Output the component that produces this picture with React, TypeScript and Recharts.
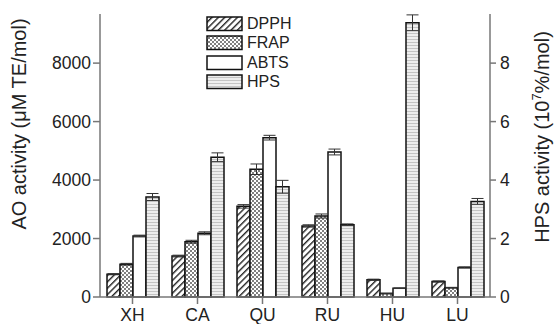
import {
  Bar,
  BarChart,
  ErrorBar,
  Legend,
  XAxis,
  YAxis,
} from "recharts";

const CATEGORIES = ["XH", "CA", "QU", "RU", "HU", "LU"];

// AO activity, µM TE/mol (left axis)
const DPPH = [780, 1400, 3100, 2430, 590, 530];
const DPPH_ERR = [20, 30, 60, 40, 20, 20];
const FRAP = [1120, 1890, 4370, 2770, 120, 320];
const FRAP_ERR = [30, 50, 180, 70, 10, 10];
const ABTS = [2085, 2180, 5450, 4960, 300, 1010];
const ABTS_ERR = [30, 50, 80, 100, 10, 20];
// HPS activity, 10^7 %/mol (right axis)
const HPS = [3.42, 4.78, 3.77, 2.47, 9.38, 3.27];
const HPS_ERR = [0.12, 0.15, 0.22, 0.03, 0.27, 0.1];

const LEFT_TICKS = [0, 2000, 4000, 6000, 8000];
const RIGHT_TICKS = [0, 2, 4, 6, 8];

const SERIES = [
  { key: "DPPH", fill: "url(#pDpph)" },
  { key: "FRAP", fill: "url(#pFrap)" },
  { key: "ABTS", fill: "#ffffff" },
  { key: "HPS", fill: "url(#pHps)" },
];

const data = CATEGORIES.map((name, i) => ({
  name,
  DPPH: DPPH[i],
  dpphErr: DPPH_ERR[i],
  FRAP: FRAP[i],
  frapErr: FRAP_ERR[i],
  ABTS: ABTS[i],
  abtsErr: ABTS_ERR[i],
  HPS: HPS[i],
  hpsErr: HPS_ERR[i],
}));

const FONT = "'Liberation Sans', Arial, Helvetica, sans-serif";
const AXIS = "#777";
const tickStyle = { fill: "#222", fontSize: 17.5, fontFamily: FONT };

function LegendBox() {
  return (
    <div style={{ fontFamily: FONT, fontSize: 16, color: "#222", lineHeight: 1 }}>
      {SERIES.map((s) => (
        <div
          key={s.key}
          style={{ display: "flex", alignItems: "center", height: 19.5 }}
        >
          <svg width={38} height={16} style={{ display: "block" }}>
            <rect
              x={1}
              y={1}
              width={35}
              height={13.5}
              fill={s.fill}
              stroke="#111"
              strokeWidth={1.5}
            />
          </svg>
          <span style={{ marginLeft: 3, fontSize: 16 }}>{s.key}</span>
        </div>
      ))}
    </div>
  );
}

export default function App() {
  return (
    <div style={{ width: 555, height: 324, background: "#fff" }}>
      <style>{"body{margin:0}"}</style>
      <BarChart
        width={555}
        height={324}
        data={data}
        margin={{ top: 14, right: 0, bottom: 0, left: 0 }}
        barGap={0}
        barSize={13}
      >
        <defs>
          <pattern
            id="pDpph"
            patternUnits="userSpaceOnUse"
            width={4.5}
            height={4.5}
            patternTransform="rotate(45)"
          >
            <rect width={4.5} height={4.5} fill="#fff" />
            <line x1={0} y1={0} x2={0} y2={4.5} stroke="#222" strokeWidth={2.8} />
          </pattern>
          <pattern
            id="pFrap"
            patternUnits="userSpaceOnUse"
            width={4}
            height={4}
          >
            <rect width={4} height={4} fill="#fff" />
            <circle cx={1} cy={1} r={1} fill="#555" />
            <circle cx={3} cy={3} r={1} fill="#555" />
          </pattern>
          <pattern
            id="pHps"
            patternUnits="userSpaceOnUse"
            width={4}
            height={3}
          >
            <rect width={4} height={3} fill="#eee" />
            <line x1={0} y1={0.5} x2={4} y2={0.5} stroke="#c4c4c4" strokeWidth={1} />
          </pattern>
        </defs>
        <XAxis
          dataKey="name"
          height={27}
          stroke={AXIS}
          strokeWidth={1.5}
          tickSize={7}
          tickMargin={5}
          tick={tickStyle}
        />
        <YAxis
          yAxisId="left"
          width={100}
          domain={[0, 9680]}
          ticks={LEFT_TICKS}
          stroke={AXIS}
          strokeWidth={1.5}
          tickSize={7}
          tickMargin={2}
          tick={tickStyle}
          label={{
            content: () => (
              <text
                x={0}
                y={0}
                transform="translate(26,124) rotate(-90)"
                textAnchor="middle"
                fontFamily={FONT}
                fontSize={20}
                fill="#222"
              >
                AO activity (μM TE/mol)
              </text>
            ),
          }}
        />
        <YAxis
          yAxisId="right"
          orientation="right"
          width={65}
          domain={[0, 9.68]}
          ticks={RIGHT_TICKS}
          stroke={AXIS}
          strokeWidth={1.5}
          tickSize={6}
          tickMargin={4}
          tick={tickStyle}
          label={{
            content: () => (
              <text
                x={0}
                y={0}
                transform="translate(549,137) rotate(-90)"
                textAnchor="middle"
                fontFamily={FONT}
                fontSize={20}
                fill="#222"
              >
                HPS activity (10
                <tspan fontSize={13} dy={-8}>
                  7
                </tspan>
                <tspan dy={8}>%/mol)</tspan>
              </text>
            ),
          }}
        />
        <Legend
          layout="vertical"
          align="center"
          verticalAlign="middle"
          wrapperStyle={{ left: 206, top: 14, width: 110 }}
          content={() => <LegendBox />}
        />
        <Bar
          yAxisId="left"
          dataKey="DPPH"
          fill="url(#pDpph)"
          stroke="#111"
          strokeWidth={1.5}
          isAnimationActive={false}
        >
          <ErrorBar dataKey="dpphErr" width={6} stroke="#333" strokeWidth={1} />
        </Bar>
        <Bar
          yAxisId="left"
          dataKey="FRAP"
          fill="url(#pFrap)"
          stroke="#111"
          strokeWidth={1.5}
          isAnimationActive={false}
        >
          <ErrorBar dataKey="frapErr" width={6} stroke="#333" strokeWidth={1} />
        </Bar>
        <Bar
          yAxisId="left"
          dataKey="ABTS"
          fill="#fff"
          stroke="#111"
          strokeWidth={1.5}
          isAnimationActive={false}
        >
          <ErrorBar dataKey="abtsErr" width={6} stroke="#333" strokeWidth={1} />
        </Bar>
        <Bar
          yAxisId="right"
          dataKey="HPS"
          fill="url(#pHps)"
          stroke="#111"
          strokeWidth={1.5}
          isAnimationActive={false}
        >
          <ErrorBar dataKey="hpsErr" width={6} stroke="#333" strokeWidth={1} />
        </Bar>
      </BarChart>
    </div>
  );
}
